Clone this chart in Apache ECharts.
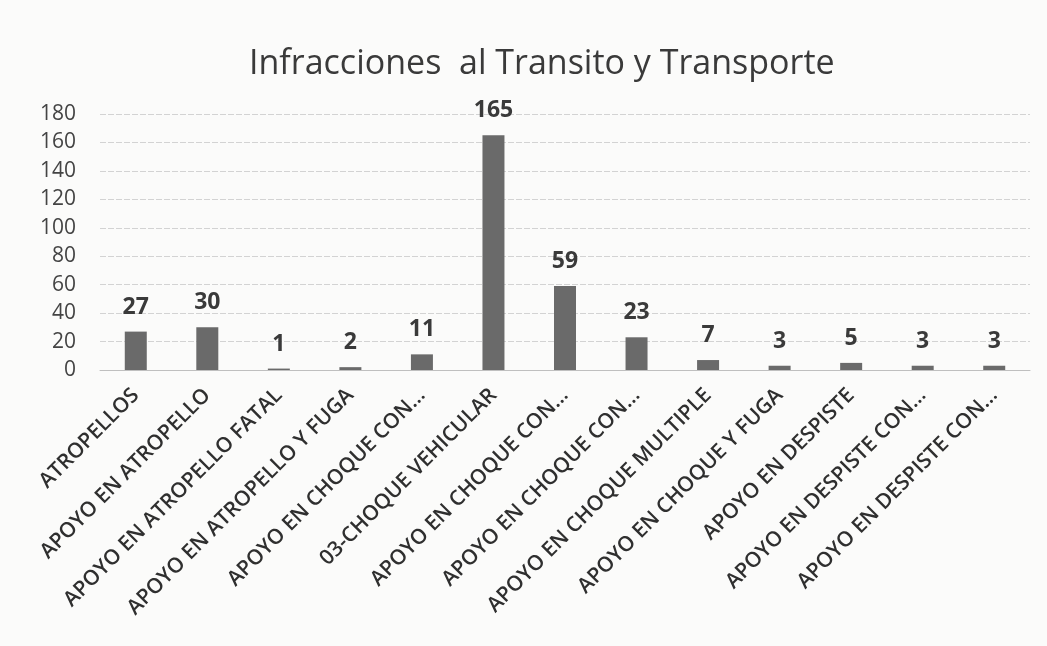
<!DOCTYPE html>
<html>
<head>
<meta charset="utf-8">
<script src="https://cdn.jsdelivr.net/npm/echarts@6/dist/echarts.min.js"></script>
<style>
  html, body { margin: 0; padding: 0; background: #fbfbfa; }
  #chart { width: 1047px; height: 646px; }
</style>
</head>
<body>
<div id="chart"></div>
<script>
// categorias y valores
var categorias = [
    'ATROPELLOS',
    'APOYO EN ATROPELLO',
    'APOYO EN ATROPELLO FATAL',
    'APOYO EN ATROPELLO Y FUGA',
    'APOYO EN CHOQUE CON…',
    '03-CHOQUE VEHICULAR',
    'APOYO EN CHOQUE CON…',
    'APOYO EN CHOQUE CON…',
    'APOYO EN CHOQUE MULTIPLE',
    'APOYO EN CHOQUE Y FUGA',
    'APOYO EN DESPISTE',
    'APOYO EN DESPISTE CON…',
    'APOYO EN DESPISTE CON…'
];
var valores = [27, 30, 1, 2, 11, 165, 59, 23, 7, 3, 5, 3, 3];
var ticksY = [0, 20, 40, 60, 80, 100, 120, 140, 160, 180];

var chart = echarts.init(document.getElementById('chart'));
chart.setOption({
    backgroundColor: '#fbfbfa',
    title: {
        text: 'Infracciones  al Transito y Transporte',
        left: 244,
        top: 42,
        textStyle: {
            fontFamily: 'Open Sans',
            fontWeight: 'normal',
            fontSize: 34,
            color: '#3a3a3a'
        }
    },
    grid: {
        left: 100,
        right: 17,
        top: 114,
        bottom: 276
    },
    xAxis: {
        type: 'category',
        data: categorias,
        axisLine: { lineStyle: { color: '#bfbfbf' } },
        axisTick: { show: false },
        axisLabel: {
            interval: 0,
            rotate: 45,
            margin: 22,
            fontFamily: 'Open Sans',
            fontWeight: 600,
            fontSize: 21,
            color: '#2f2f2f'
        }
    },
    yAxis: {
        type: 'value',
        min: ticksY[0],
        max: ticksY[ticksY.length - 1],
        interval: 20,
        axisLine: { show: false },
        axisTick: { show: false },
        splitLine: { lineStyle: { color: '#d3d3d3', type: [6, 2] } },
        axisLabel: {
            margin: 24,
            fontFamily: 'Open Sans',
            fontSize: 21,
            color: '#444'
        }
    },
    series: [{
        type: 'bar',
        data: valores,
        barWidth: 22,
        itemStyle: { color: '#6a6a6a' },
        label: {
            show: true,
            position: 'top',
            distance: 13,
            fontFamily: 'Open Sans',
            fontWeight: 'bold',
            fontSize: 23,
            color: '#3a3a3a'
        }
    }]
});
</script>
</body>
</html>
